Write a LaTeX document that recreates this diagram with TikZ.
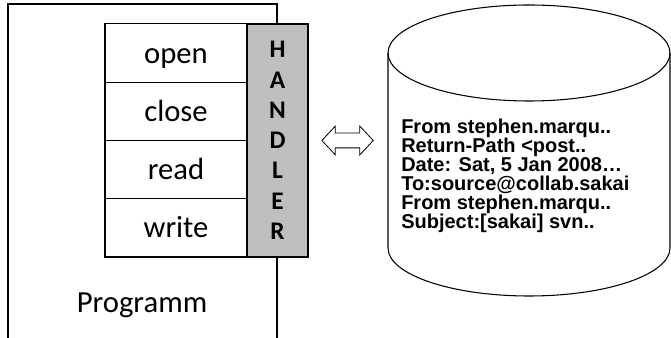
\documentclass[tikz,border=0pt]{standalone}
\usepackage{fontspec}
\setmainfont{Carlito}
\newfontfamily\mailfont{Liberation Sans}
\usetikzlibrary{positioning,shapes.arrows}
\tikzset{
  method/.style={draw, line width=0.8pt, outer sep=0pt, inner sep=0pt,
    minimum width=106.5pt, minimum height=43.7pt,
    text height=17pt, text depth=2pt,
    font=\fontsize{23}{27}\selectfont},
}
\begin{document}
\begin{tikzpicture}[x=0.75pt,y=0.75pt]
  \useasboundingbox (0,0) rectangle (671,338);

  % program, open at the bottom
  \draw[line width=0.8pt] (8,0) -- (8,334) -- (277,334) -- (277,0);
  \node[font=\fontsize{23}{27}\selectfont, anchor=base] (prog) at (142,25) {Programm};

  \node[method] (open) at (176,284.9) {open};
  \node[method, below=0pt of open] (close) {close};
  \node[method, below=0pt of close] (read) {read};
  \node[method, below=0pt of read] (write) {write};
  \node[draw, line width=0.8pt, fill=gray!50, outer sep=0pt, inner sep=0pt,
    minimum width=45.75pt, minimum height=174.75pt, align=center,
    font=\fontsize{19}{22.7}\selectfont\bfseries] (handler) at (277.5,197.5)
    {H\\A\\N\\D\\L\\E\\R};

  \node[double arrow, draw, line width=0.6pt, inner xsep=0pt, inner ysep=5.25pt,
    minimum height=38.5pt, double arrow head extend=5.25pt,
    double arrow tip angle=94, right=10pt of handler] (link) {};

  % mailbox file
  \coordinate (db) at (529,285);
  \draw[line width=0.8pt] (388,285) .. controls (388,311.5) and (451.1,333) .. (529,333)
    .. controls (606.9,333) and (670,311.5) .. (670,285)
    .. controls (670,258.5) and (606.9,237) .. (529,237)
    .. controls (451.1,237) and (388,258.5) .. (388,285);
  \draw[line width=0.8pt] (388,285) -- (388,90)
    .. controls (388,63.5) and (451.1,42) .. (529,42)
    .. controls (606.9,42) and (670,63.5) .. (670,90) -- (670,285);
  \node[anchor=west, inner sep=0pt, align=left,
    font=\mailfont\bfseries\fontsize{15}{14.25}\selectfont] (mail) at (401,162)
    {From stephen.marqu..\\Return-Path <post..\\Date: Sat, 5 Jan 2008…\\
     To:source@collab.sakai\\From stephen.marqu..\\Subject:[sakai] svn..};
\end{tikzpicture}
\end{document}
